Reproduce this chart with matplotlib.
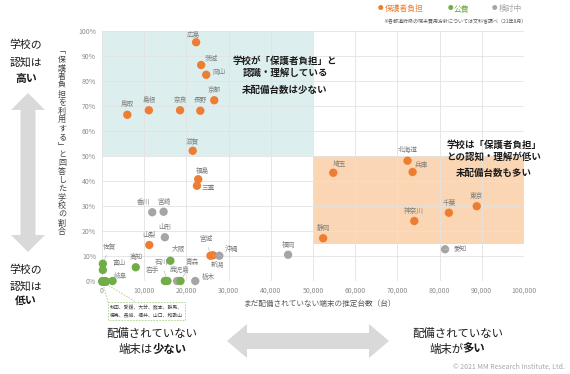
import matplotlib
matplotlib.use('Agg')
import matplotlib.pyplot as plt
from matplotlib.patches import Rectangle, Polygon
from matplotlib.lines import Line2D

plt.rcParams['font.family'] = ['Noto Sans CJK JP', 'DejaVu Sans']

# ---------------- data ----------------
prefectures = ['広島', '茨城', '岡山', '京都', '長野', '奈良', '島根', '鳥取', '滋賀', '福島', '三重',
               '山梨', '宮城', '新潟', '北海道', '兵庫', '埼玉', '東京', '千葉', '神奈川', '静岡',
               '香川', '宮崎', '山形', '沖縄', '福岡', '愛知', '栃木', '鹿児島',
               '佐賀', '富山', '高知', '大阪', '岩手', '石川', '青森', '岐阜']
undeployed = [22300, 23500, 24700, 26600, 23300, 18500, 11100, 6000, 21500, 22800, 22500,
              11200, 25700, 26300, 72400, 73600, 54800, 88800, 82200, 74000, 52400,
              11900, 14600, 14900, 27800, 44100, 81300, 22100, 17800,
              200, 200, 8000, 16200, 14900, 15500, 18600, 2500]
share_pct = [95.5, 86.4, 82.5, 72.3, 68.1, 68.3, 68.3, 66.5, 52.1, 40.7, 38.1,
             14.4, 10.1, 10.3, 48.1, 43.6, 43.3, 29.9, 27.3, 24.0, 17.1,
             27.5, 27.7, 17.5, 10.1, 10.5, 12.7, 0.0, 0.0,
             6.9, 4.4, 5.5, 8.1, 0.0, 0.0, 0.0, 0.0]
policy = ['保護者負担'] * 21 + ['検討中'] * 8 + ['公費'] * 8

group_names = ['秋田', '愛媛', '大分', '熊本', '群馬', '徳島', '長崎', '福井', '山口', '和歌山']
group_undeployed = [0, 0, 0, 0, 0, 600, 600, 600, 600, 600]
group_share_pct = [0] * 10
group_policy = '公費'

legend_labels = ['保護者負担', '公費', '検討中']
x_ticks = list(range(0, 100001, 10000))
y_ticks = list(range(0, 101, 10))

# ---------------- styles ----------------
colors = {'保護者負担': '#ED7D31', '公費': '#70AD47', '検討中': '#A5A5A5'}
# label offsets in pixels (dx right, dy up), leader line flag
label_pos = {
    '広島': (-3, 7, False), '茨城': (10, 6, False), '岡山': (13, 3, False), '京都': (0, 10, False),
    '長野': (0, 10.5, False), '奈良': (0, 10, False), '島根': (0, 10, False), '鳥取': (0, 10.5, False),
    '滋賀': (0, 10, False), '福島': (4, 8, False), '三重': (11, -2, False), '山梨': (0, 10, False),
    '宮城': (-4, 17, True), '新潟': (5, -10, True), '北海道': (0, 10.5, False), '兵庫': (9, 7, False),
    '埼玉': (6, 9, False), '東京': (0, 10, False), '千葉': (0, 10, False), '神奈川': (0, 10, False),
    '静岡': (0, 10, False), '香川': (-9, 10, False), '宮崎': (0, 10, False), '山形': (0, 10, False),
    '沖縄': (12, 7, True), '福岡': (0, 10, False), '愛知': (15, 0, True), '栃木': (13, 4, False),
    '鹿児島': (3, 11, False), '佐賀': (7, 17, True), '富山': (16, 7, True), '高知': (0, 10, False),
    '大阪': (8, 12, True), '岩手': (-12, 11, True), '石川': (-6, 19, True), '青森': (12, 19, True),
    '岐阜': (8, 5, False),
}

W, H = 570, 374
fig = plt.figure(figsize=(W / 100, H / 100), dpi=100)
fig.patch.set_facecolor('white')

ax = fig.add_axes([102 / W, 1 - 281 / H, 422 / W, 250 / H])
ax.set_xlim(0, 100000)
ax.set_ylim(0, 100)
for s in ax.spines.values():
    s.set_visible(False)
ax.set_axisbelow(True)
ax.grid(True, color='#e3e3e3', lw=0.6, zorder=0.5)
ax.set_xticks(x_ticks)
ax.set_xticklabels([f'{v:,}' for v in x_ticks])
ax.set_yticks(y_ticks)
ax.set_yticklabels([f'{v}%' for v in y_ticks])
ax.tick_params(length=0, labelsize=5, labelcolor='#8c8c8c', pad=4.3)

# shaded regions
ax.add_patch(Rectangle((0, 50), 50000, 50, facecolor='#DCEEEE', edgecolor='none', zorder=0.2))
ax.add_patch(Rectangle((50000, 15), 50000, 35, facecolor='#FAD6B5', edgecolor='none', zorder=0.2))

# points
ax.scatter(group_undeployed, group_share_pct, s=36, color=colors[group_policy],
           zorder=3, clip_on=False, linewidths=0)
ax.scatter(undeployed, share_pct, s=36, c=[colors[p] for p in policy],
           zorder=3, clip_on=False, linewidths=0)

for name, xv, yv in zip(prefectures, undeployed, share_pct):
    dx, dy, leader = label_pos[name]
    kw = {}
    if leader:
        kw['arrowprops'] = dict(arrowstyle='-', color='#bfbfbf', lw=0.5, shrinkA=1.5, shrinkB=3)
    ax.annotate(name, (xv, yv), xytext=(dx * 0.72, dy * 0.72), textcoords='offset points',
                ha='center', va='center', fontsize=4.8, color='#7f7f7f', zorder=4, **kw)

# annotation texts inside the plot
def ftext(x, y, s, **kw):
    fig.text(x / W, 1 - y / H, s, **kw)

bold = dict(ha='center', va='center', fontsize=6.8, fontweight='bold', color='#1a1a1a')
ftext(285, 61, '学校が「保護者負担」と', **bold)
ftext(285, 73, '認識・理解している', **bold)
ftext(285, 90, '未配備台数は少ない', **bold)
ftext(494, 145, '学校は「保護者負担」', **bold)
ftext(494, 157, 'との認知・理解が低い', **bold)
ftext(494, 173, '未配備台数も多い', **bold)

# legend
leg_x = [381, 450, 495]
for lx, lab in zip(leg_x, legend_labels):
    ftext(lx, 9, '●', ha='center', va='center', fontsize=4, color=colors[lab])
    ftext(lx + 4, 9, lab, ha='left', va='center', fontsize=5.6, color=colors[lab])
ftext(527, 22, '※各都道府県の端末費用方針については文科省調べ（21年8月）', ha='right', va='center',
      fontsize=3.6, color='#595959')

# axis labels
ftext(320, 304, 'まだ配備されていない端末の推定台数（台）', ha='center', va='center', fontsize=5.5, color='#595959')
ylab = '﹁保護者負担を利用する﹂と回答した学校の割合'
for i, ch in enumerate(ylab):
    ftext(62, 51 + i * 8.6, ch, ha='center', va='center', fontsize=5.8, color='#404040')

# overlay for decorative shapes
ov = fig.add_axes([0, 0, 1, 1], zorder=-1)
ov.set_xlim(0, W)
ov.set_ylim(H, 0)
ov.axis('off')

# vertical double arrow
cx, top, bot, hw, hl, sw = 28, 93, 252, 17, 17, 7.5
ov.add_patch(Polygon([(cx, top), (cx + hw, top + hl), (cx + sw, top + hl), (cx + sw, bot - hl),
                      (cx + hw, bot - hl), (cx, bot), (cx - hw, bot - hl), (cx - sw, bot - hl),
                      (cx - sw, top + hl), (cx - hw, top + hl)], closed=True,
                     facecolor='#D9D9D9', edgecolor='none'))
# horizontal double arrow
cy, lft, rgt, hh, hlen, sh = 341, 227, 389, 17, 20, 8
ov.add_patch(Polygon([(lft, cy), (lft + hlen, cy - hh), (lft + hlen, cy - sh), (rgt - hlen, cy - sh),
                      (rgt - hlen, cy - hh), (rgt, cy), (rgt - hlen, cy + hh), (rgt - hlen, cy + sh),
                      (lft + hlen, cy + sh), (lft + hlen, cy + hh)], closed=True,
                     facecolor='#D9D9D9', edgecolor='none'))

# dashed callout box
ov.add_patch(Rectangle((108, 302), 77, 18, facecolor='white', edgecolor='#A9D18E', lw=0.6, ls=(0, (2, 1.5))))
ov.add_line(Line2D([103, 108], [284, 302], color='#A9D18E', lw=0.6, ls=(0, (2, 1.5))))
ov.add_line(Line2D([106, 136], [284, 302], color='#A9D18E', lw=0.6, ls=(0, (2, 1.5))))
ov.text(110, 307, '秋田、愛媛、大分、熊本、群馬、', ha='left', va='center', fontsize=3.5, color='#404040')
ov.text(110, 314.5, '徳島、長崎、福井、山口、和歌山', ha='left', va='center', fontsize=3.5, color='#404040')

# left side texts
ftext(26, 45, '学校の', ha='center', va='center', fontsize=7.8, color='#1a1a1a')
ftext(26, 62, '認知は', ha='center', va='center', fontsize=7.8, color='#1a1a1a')
ftext(26, 79, '高い', ha='center', va='center', fontsize=7.8, fontweight='bold', color='#1a1a1a')
ftext(26, 270, '学校の', ha='center', va='center', fontsize=7.8, color='#1a1a1a')
ftext(26, 286, '認知は', ha='center', va='center', fontsize=7.8, color='#1a1a1a')
ftext(26, 301, '低い', ha='center', va='center', fontsize=7.8, fontweight='bold', color='#1a1a1a')

# bottom texts
ftext(152, 333, '配備されていない', ha='center', va='center', fontsize=8.2, color='#1a1a1a')
ftext(153, 349, '端末は', ha='right', va='center', fontsize=8.2, color='#1a1a1a')
ftext(153, 349, '少ない', ha='left', va='center', fontsize=8.2, fontweight='bold', color='#1a1a1a')
ftext(458, 333, '配備されていない', ha='center', va='center', fontsize=8.2, color='#1a1a1a')
ftext(464, 349, '端末が', ha='right', va='center', fontsize=8.2, color='#1a1a1a')
ftext(462, 349, '多い', ha='left', va='center', fontsize=8.2, fontweight='bold', color='#1a1a1a')

ftext(565, 367, '© 2021 MM Research Institute, Ltd.', ha='right', va='center', fontsize=5, color='#a6a6a6')

fig.savefig('out.png', dpi=100)
